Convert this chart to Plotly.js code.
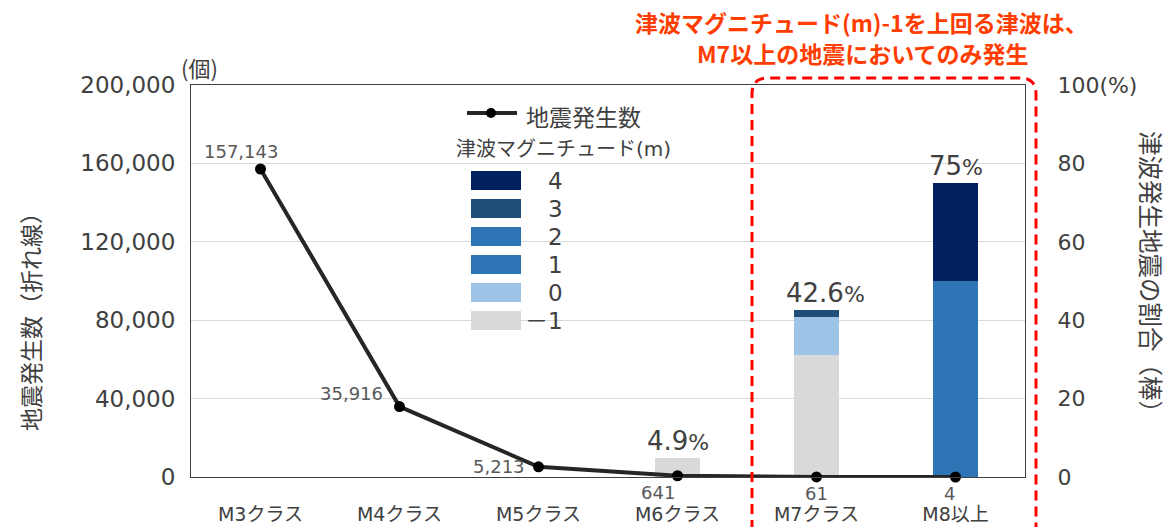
<!DOCTYPE html>
<html><head><meta charset="utf-8">
<script src="https://cdn.plot.ly/plotly-3.0.1.min.js"></script>
<style>html,body{margin:0;padding:0;background:#fff}#chart{width:1171px;height:527px}</style>
</head><body><div id="chart"></div>
<script>
// ---- data ----
const categories = ['M3クラス','M4クラス','M5クラス','M6クラス','M7クラス','M8以上'];
const quakeCounts = [157143, 35916, 5213, 641, 61, 4];
const quakeLabels = ['157,143','35,916','5,213','641','61','4'];
const magLevels = ['－1','0','1','2','3','4'];
const magColors = ['#D9D9D9','#9DC3E6','#2E75B6','#2E75B6','#1F4E79','#002060'];
const shareM1 = [0,0,0,4.9,31.1,0];
const share0  = [0,0,0,0,9.8,0];
const share1  = [0,0,0,0,0,0];
const share2  = [0,0,0,0,0,50];
const share3  = [0,0,0,0,1.7,0];
const share4  = [0,0,0,0,0,25];
const shares = [shareM1, share0, share1, share2, share3, share4];
const tsunamiPct = [null,null,null,4.9,42.6,75];
const leftTickVals = [0,40000,80000,120000,160000,200000];
const rightTickVals = [0,20,40,60,80,100];
const rightTickText = ['0','20','40','60','80','100(%)'];
const headline1 = '津波マグニチュード(m)-1を上回る津波は、';
const headline2 = 'M7以上の地震においてのみ発生';

// ---- layout helpers ----
const W=1171,H=527,L=191,R=146,T=85,B=50;
const PW=W-L-R, PH=H-T-B;
const px=x=>(x-L)/PW, py=y=>(H-B-y)/PH;
const FONT='DejaVu Sans, "Noto Sans CJK JP", sans-serif';
const JFONT='"Noto Sans CJK JP", sans-serif';

const traces=[];
shares.forEach((s,i)=>{
  traces.push({type:'bar',x:categories,y:s,name:magLevels[i],yaxis:'y',
    marker:{color:magColors[i],line:{width:0}},width:0.32,showlegend:false,hoverinfo:'skip'});
});
traces.push({type:'scatter',mode:'lines+markers',x:categories,y:quakeCounts,yaxis:'y2',
  name:'地震発生数',line:{color:'#262626',width:4},marker:{color:'#000',size:11},
  cliponaxis:false,showlegend:false});

const ann=[];
function pAnn(x,y,text,font,extra){
  ann.push(Object.assign({x:px(x),y:py(y),xref:'paper',yref:'paper',xanchor:'center',yanchor:'middle',
    text:text,showarrow:false,font:font},extra||{}));
}
// line data labels
const lblShift=[[-20,18],[-48,13],[-40,0],[-20,-17],[0,-17],[-6,-17]];
quakeCounts.forEach((v,i)=>{
  ann.push({x:categories[i],y:v,xref:'x',yref:'y2',xanchor:'center',yanchor:'middle',text:quakeLabels[i],showarrow:false,
    xshift:lblShift[i][0],yshift:lblShift[i][1],font:{family:FONT,size:18,color:'#595959'}});
});
// percent labels
const pctX=[0,0,0,0,9,0];
tsunamiPct.forEach((v,i)=>{
  if(v==null) return;
  ann.push({x:categories[i],y:v,xref:'x',yref:'y',xanchor:'center',yanchor:'bottom',showarrow:false,
    xshift:pctX[i],yshift:0,
    text:v+'<span style="font-size:22px">%</span>',font:{family:FONT,size:26,color:'#404040'}});
});
// unit & titles
pAnn(199,67,'(個)',{family:JFONT,size:22,color:'#404040'});
pAnn(30,316,'地震発生数（折れ線）',{family:JFONT,size:23,color:'#404040'},{textangle:-90});
pAnn(1152,278,'津波発生地震の割合（棒）',{family:JFONT,size:24.5,color:'#404040'},{textangle:90});
pAnn(861,22,'<b>'+headline1+'</b>',{family:JFONT,size:23,color:'#FF3D00'});
pAnn(863,53,'<b>'+headline2+'</b>',{family:JFONT,size:23,color:'#FF3D00'});

// custom legend
const shapes=[];
shapes.push({type:'line',xref:'paper',yref:'paper',x0:px(467),x1:px(517),y0:py(113),y1:py(113),
  line:{color:'#262626',width:4}});
shapes.push({type:'circle',xref:'paper',yref:'paper',x0:px(486),x1:px(496),y0:py(108),y1:py(118),
  fillcolor:'#000',line:{color:'#000',width:0}});
pAnn(524,116,'地震発生数',{family:JFONT,size:23,color:'#404040'},{xanchor:'left'});
pAnn(563,149,'津波マグニチュード(m)',{family:FONT,size:20,color:'#404040'});
for(let k=0;k<magLevels.length;k++){
  const i=magLevels.length-1-k;
  const top=171+28*k;
  shapes.push({type:'rect',xref:'paper',yref:'paper',x0:px(471),x1:px(521),y0:py(top),y1:py(top+19),
    fillcolor:magColors[i],line:{width:0}});
  pAnn(565,top+10,magLevels[i],{family:FONT,size:23,color:'#404040'},{xanchor:'right'});
}
// red dashed rounded box
const xa=px(752), xb=px(1036), yt=py(78), yb=py(530), rx=16/PW, ry=16/PH;
shapes.push({type:'path',xref:'paper',yref:'paper',
  path:`M ${xa},${yb} L ${xa},${yt-ry} Q ${xa},${yt} ${xa+rx},${yt} L ${xb-rx},${yt} Q ${xb},${yt} ${xb},${yt-ry} L ${xb},${yb}`,
  line:{color:'#FF0000',width:3,dash:'10px,6px'}});

const layout={
  width:W,height:H,margin:{l:L,r:R,t:T,b:B,pad:0},
  paper_bgcolor:'#fff',plot_bgcolor:'#fff',
  barmode:'stack',showlegend:false,
  font:{family:FONT,color:'#404040'},
  xaxis:{type:'category',range:[-0.5,5.5],showgrid:false,zeroline:false,
    showline:true,mirror:true,linecolor:'#404040',linewidth:1,
    ticks:'outside',ticklen:20,tickcolor:'rgba(0,0,0,0)',
    tickfont:{family:FONT,size:19,color:'#404040'}},
  yaxis:{side:'right',range:[0,100],tickvals:rightTickVals,ticktext:rightTickText,
    showgrid:true,gridcolor:'#D9D9D9',gridwidth:1,zeroline:false,
    showline:true,mirror:true,linecolor:'#404040',linewidth:1,
    ticks:'outside',ticklen:27,tickcolor:'rgba(0,0,0,0)',
    tickfont:{family:FONT,size:22,color:'#404040'}},
  yaxis2:{overlaying:'y',side:'left',range:[0,200000],tickvals:leftTickVals,tickformat:',d',
    showgrid:false,zeroline:false,showline:false,
    ticks:'outside',ticklen:10,tickcolor:'rgba(0,0,0,0)',
    tickfont:{family:FONT,size:23,color:'#404040'}},
  annotations:ann,shapes:shapes
};
Plotly.newPlot('chart',traces,layout,{displayModeBar:false,staticPlot:true});
</script></body></html>
